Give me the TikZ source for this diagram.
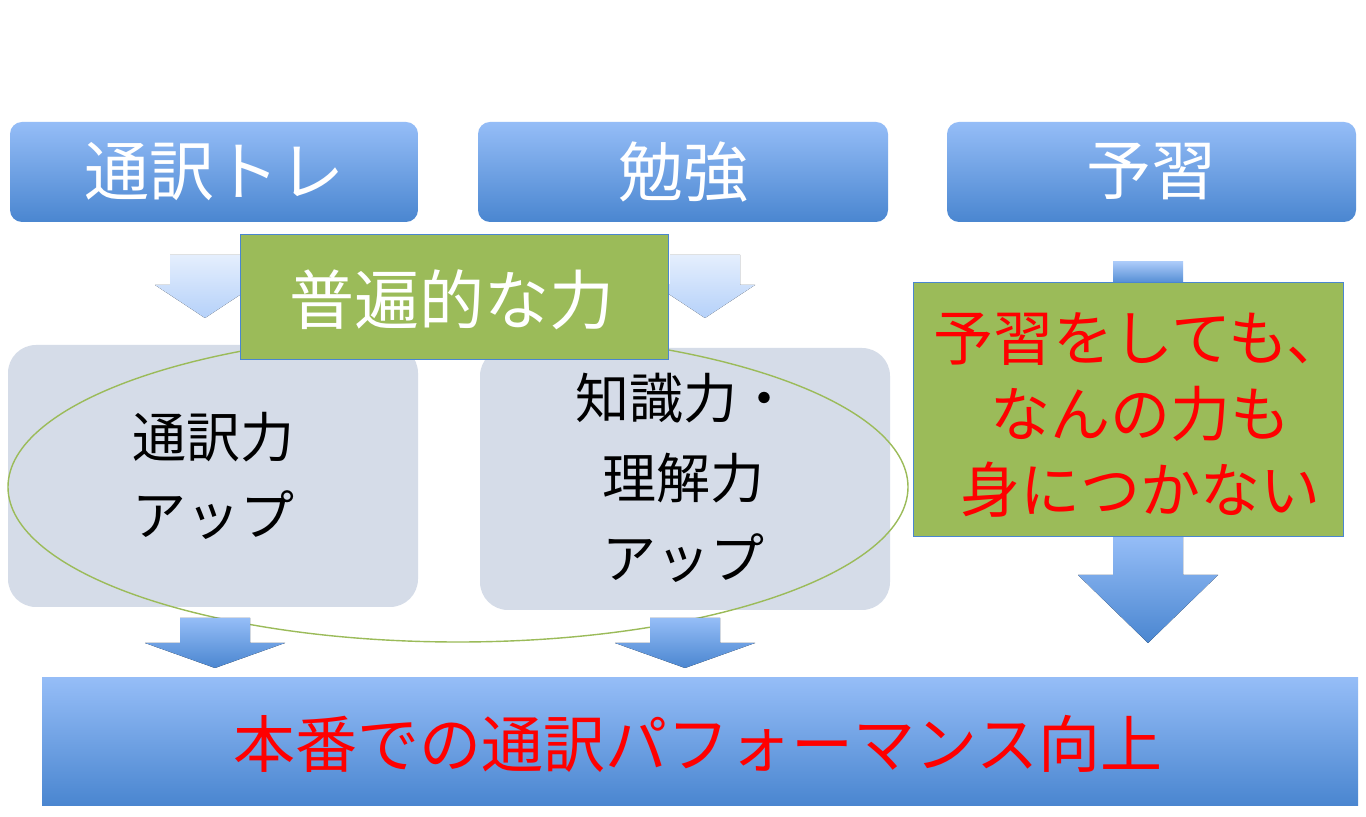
\documentclass[tikz,border=0pt]{standalone}
\usepackage{fontspec}
\setmainfont{Noto Sans CJK JP}
\usetikzlibrary{shapes.geometric}
\definecolor{bltop}{HTML}{95BDF7}
\definecolor{blbot}{HTML}{4A86D0}
\definecolor{grn}{HTML}{9BBB59}
\definecolor{gry}{HTML}{D5DCE8}
\tikzset{
  topbox/.style={rounded corners=6pt, top color=bltop, bottom color=blbot, draw=none},
  graybox/.style={rounded corners=14pt, fill=gry, draw=none},
  greenbox/.style={fill=grn, draw=blbot, line width=0.5pt},
  whitetxt/.style={text=white, font=\fontsize{32.5}{36}\selectfont},
  blkarrow/.style={top color=bltop, bottom color=blbot, draw=none},
  palearrow/.style={top color=bltop!25, bottom color=bltop!70, draw=none},
}
\begin{document}
\begin{tikzpicture}[x=0.5pt,y=-0.5pt]
\useasboundingbox (0,0) rectangle (1366,817);
\fill[white] (0,0) rectangle (1366,817);
% top boxes
\draw[topbox] (10,122) rectangle (418,222);
\node[whitetxt] (t1) at (214,172) {通訳トレ};
\draw[topbox] (478,122) rectangle (888,222);
\node[whitetxt] (t2) at (683,172) {勉強};
\draw[topbox] (947,122) rectangle (1356,222);
\node[whitetxt] (t3) at (1151,172) {予習};
% pale arrows
\fill[palearrow] (170,255) -- (240,255) -- (240,285) -- (255,285) -- (205,318) -- (155,285) -- (170,285) -- cycle;
\fill[palearrow] (670,255) -- (740,255) -- (740,285) -- (755,285) -- (705,318) -- (655,285) -- (670,285) -- cycle;
% gray boxes
\draw[graybox] (8,345) rectangle (418,607);
\node[align=center, font=\fontsize{27}{39}\selectfont] (g1) at (213,476) {通訳力\\アップ};
\draw[graybox] (480,348) rectangle (890,610);
\node[align=center, font=\fontsize{27}{40}\selectfont] (g2) at (683,478) {知識力・\\理解力\\アップ};
% ellipse
\draw[grn, line width=0.7pt] (458,487) ellipse [x radius=450, y radius=155];
% green box top
\draw[greenbox] (240,235) rectangle (668,360);
\node[whitetxt] (gb) at (452,300) {普遍的な力};
% small arrows
\fill[blkarrow] (180,618) -- (250,618) -- (250,643) -- (285,643) -- (215,668) -- (145,643) -- (180,643) -- cycle;
\fill[blkarrow] (650,618) -- (720,618) -- (720,643) -- (755,643) -- (685,668) -- (615,643) -- (650,643) -- cycle;
% right column
\fill[blkarrow, top color=bltop!80] (1113,262) rectangle (1183,285);
\fill[blkarrow] (1113,537) -- (1183,537) -- (1183,575) -- (1218,575) -- (1148,643) -- (1078,575) -- (1113,575) -- cycle;
\draw[greenbox] (913,283) rectangle (1343,537);
\node[align=center, text=red, font=\fontsize{30}{38}\selectfont] (rt) at (1140,415) {予習をしても、\\なんの力も\\身につかない};
% bottom box
\fill[topbox, rounded corners=0pt] (42,678) rectangle (1358,805);
\node[text=red, font=\fontsize{31}{34}\selectfont] (bt) at (698,744) {本番での通訳パフォーマンス向上};
\end{tikzpicture}
\end{document}
